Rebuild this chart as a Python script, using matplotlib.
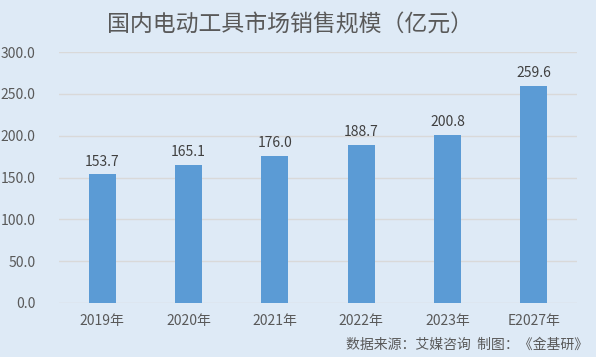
import matplotlib
matplotlib.use("Agg")
import matplotlib.pyplot as plt

plt.rcParams['font.family'] = ['Noto Sans CJK SC', 'DejaVu Sans']

categories = ["2019年", "2020年", "2021年", "2022年", "2023年", "E2027年"]
values = [153.7, 165.1, 176.0, 188.7, 200.8, 259.6]
yticks = [0, 50, 100, 150, 200, 250, 300]

bg = "#DEEAF6"
fig = plt.figure(figsize=(5.96, 3.57), dpi=100, facecolor=bg)
ax = fig.add_axes([59/596, 1 - 303/357, 518/596, (303 - 52)/357])
ax.set_facecolor(bg)

x = range(len(categories))
ax.bar(x, values, width=0.31, color="#5B9BD5", zorder=3)
for i, v in zip(x, values):
    ax.text(i, v + 7, f"{v:.1f}", ha="center", va="bottom", fontsize=10, color="#404040")

ax.set_ylim(0, 300)
ax.set_xlim(-0.5, len(categories) - 0.5)
ax.set_yticks(yticks)
ax.set_yticklabels([f"{t:.1f}" for t in yticks], fontsize=10, color="#595959")
ax.set_xticks(list(x))
ax.set_xticklabels(categories, fontsize=10, color="#595959")
ax.tick_params(length=0, pad=8)
ax.tick_params(axis='y', pad=17)
ax.grid(axis='y', color="#D9D9D9", linewidth=1, zorder=0)
for s in ax.spines.values():
    s.set_visible(False)

fig.text(290/596, 1 - 25/357, "国内电动工具市场销售规模（亿元）", ha="center", va="center",
         fontsize=16.5, color="#595959")
fig.text(1 - 8/596, 1 - 345/357, "数据来源：艾媒咨询  制图：《金基研》", ha="right", va="center",
         fontsize=10, color="#595959")

fig.savefig("out.png", dpi=100, facecolor=bg)
